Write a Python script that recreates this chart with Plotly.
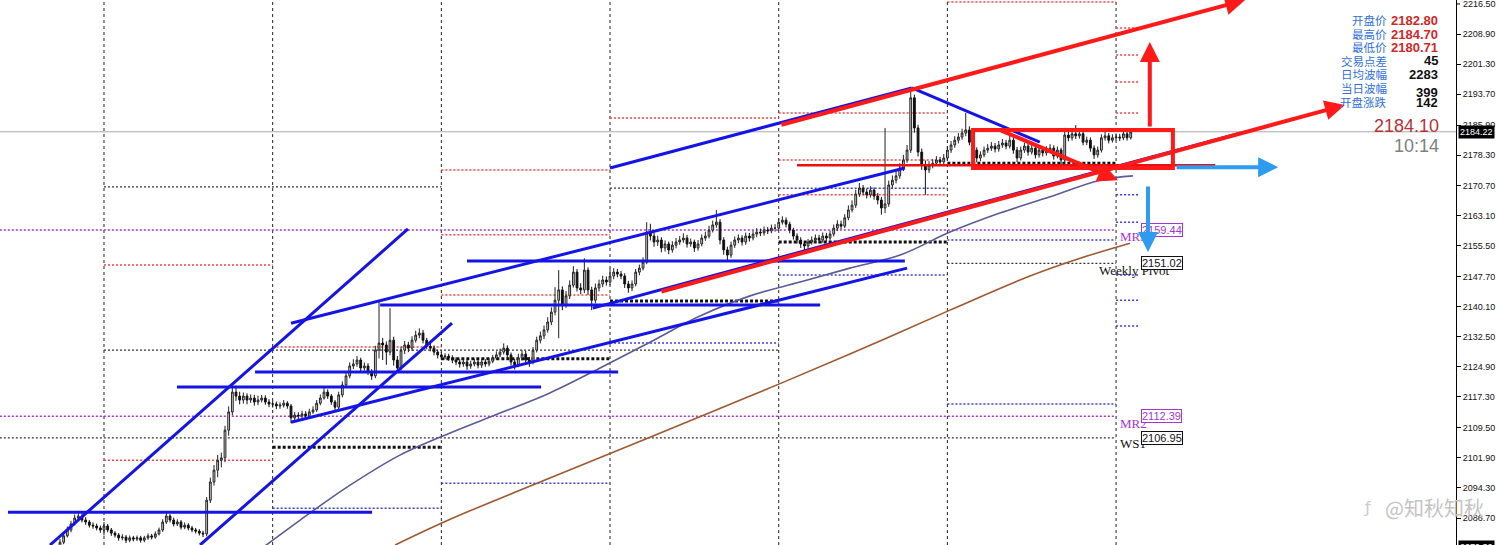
import plotly.graph_objects as go

# ---------------- candle data (30-min bars, index = bar number) ----------------
closes = [
2080.6,2082.2,2083.7,2085.2,2086.7,2087.2,2086.2,2085.7,2084.9,2084.7,
2084.2,2083.7,2084.7,2083.7,2082.9,2082.4,2081.7,2081.9,2081.1,2081.7,
2081.4,2081.7,2081.1,2081.7,2082.2,2081.9,2082.7,2083.7,2085.7,2087.2,
2086.2,2085.2,2085.7,2084.4,2084.9,2084.2,2083.7,2083.4,2082.9,2082.7,
2091.2,2095.8,2098.8,2101.3,2101.9,2108.9,2113.5,2118.5,2117.5,2116.5,
2117.5,2116.5,2117.0,2116.0,2116.5,2117.0,2116.0,2115.5,2115.5,2115.0,
2115.2,2115.7,2115.0,2112.0,2112.7,2112.5,2113.0,2112.5,2113.5,2114.0,
2115.7,2117.0,2118.5,2117.5,2116.0,2114.7,2117.8,2120.3,2122.6,2125.1,
2125.6,2126.6,2124.6,2125.1,2123.6,2122.6,2129.1,2130.9,2130.4,2128.6,
2131.6,2126.6,2124.6,2129.1,2130.4,2129.6,2131.6,2132.9,2133.4,2131.6,
2130.1,2129.6,2128.6,2127.9,2127.4,2127.6,2127.1,2126.6,2126.1,2125.6,
2126.1,2125.1,2125.6,2126.1,2125.3,2126.1,2125.6,2126.3,2127.1,2127.9,
2128.6,2129.6,2127.9,2126.1,2125.3,2127.1,2128.1,2126.6,2126.1,2129.1,
2131.6,2132.7,2134.2,2136.2,2138.7,2141.7,2144.3,2140.5,2142.8,2145.5,
2148.8,2144.8,2144.3,2149.3,2144.3,2141.7,2144.8,2145.8,2146.8,2146.3,
2147.8,2148.8,2148.3,2147.8,2145.8,2144.8,2145.8,2148.8,2149.8,2151.3,
2158.9,2157.9,2156.4,2156.9,2154.9,2155.9,2154.4,2155.6,2156.4,2156.9,
2157.4,2155.9,2156.4,2154.9,2155.9,2157.4,2157.9,2159.4,2160.7,2161.4,
2156.9,2154.4,2153.1,2155.6,2156.9,2157.4,2156.4,2157.9,2157.4,2158.4,
2158.9,2158.7,2159.4,2159.2,2159.9,2159.9,2161.4,2161.9,2160.9,2159.4,
2157.9,2156.9,2155.9,2155.4,2156.4,2156.9,2157.4,2156.9,2157.9,2157.4,
2158.4,2159.9,2160.9,2160.4,2162.5,2164.5,2165.7,2168.5,2170.0,2169.0,
2168.3,2169.5,2168.0,2167.0,2165.0,2166.0,2170.8,2172.0,2173.1,2175.1,
2177.1,2179.6,2192.8,2185.2,2179.1,2175.8,2174.6,2175.8,2176.3,2177.1,
2176.6,2177.6,2179.6,2180.9,2182.1,2182.9,2183.9,2184.7,2181.6,2179.6,
2177.6,2178.4,2179.6,2180.1,2180.6,2179.9,2180.9,2181.4,2180.6,2182.1,
2179.6,2177.6,2179.6,2180.6,2179.1,2180.1,2178.4,2179.6,2178.9,2179.6,
2180.1,2178.1,2179.6,2177.1,2183.4,2182.7,2183.7,2183.2,2183.7,2181.6,
2182.1,2180.1,2178.4,2179.6,2182.7,2183.2,2182.1,2182.7,2182.9,2182.7,
2183.7,2182.7,2184.2]

highs = [
2081.4,2083.0,2084.6,2086.0,2087.6,2088.5,2087.9,2086.9,2086.2,2085.6,
2085.3,2084.8,2085.7,2085.2,2084.2,2083.4,2082.9,2082.6,2082.4,2082.3,
2082.2,2082.3,2082.2,2082.2,2082.8,2082.7,2083.3,2084.3,2086.4,2088.3,
2087.7,2086.8,2086.4,2086.2,2085.6,2085.4,2084.7,2084.2,2083.9,2083.5,
2092.0,2096.9,2100.1,2102.6,2103.2,2110.0,2114.9,2120.0,2119.6,2118.6,
2118.4,2118.2,2117.9,2117.8,2117.6,2117.8,2117.7,2116.7,2116.3,2116.1,
2115.9,2116.5,2116.2,2115.5,2113.5,2113.4,2113.8,2113.7,2114.3,2114.9,
2116.5,2117.9,2119.5,2119.2,2118.0,2116.5,2118.6,2121.2,2123.6,2126.0,
2126.8,2127.6,2127.2,2126.0,2125.8,2124.3,2130.2,2141.7,2132.2,2131.3,
2139.7,2132.5,2127.6,2130.0,2131.4,2131.2,2132.6,2134.0,2134.6,2134.2,
2132.2,2130.9,2130.3,2129.2,2128.6,2128.3,2128.2,2127.8,2127.3,2126.8,
2126.9,2126.7,2126.4,2126.9,2126.8,2126.9,2126.8,2127.1,2127.9,2128.8,
2129.5,2130.8,2130.3,2128.5,2126.9,2128.2,2129.1,2128.9,2127.4,2129.9,
2132.5,2133.8,2135.3,2137.4,2139.9,2145.0,2149.3,2145.2,2144.0,2146.7,
2150.3,2149.6,2146.0,2152.3,2150.0,2145.1,2145.9,2146.9,2147.9,2147.7,
2149.7,2149.8,2149.6,2149.1,2148.5,2146.6,2146.7,2149.6,2150.7,2152.5,
2161.4,2161.0,2158.7,2158.0,2157.6,2156.8,2156.5,2156.6,2157.4,2157.9,
2158.6,2158.2,2157.3,2157.0,2156.9,2158.3,2159.0,2160.5,2161.8,2164.5,
2162.2,2157.6,2155.2,2156.5,2157.8,2158.3,2158.1,2158.8,2158.7,2159.3,
2159.9,2159.8,2160.3,2160.2,2160.8,2160.9,2162.4,2162.9,2162.6,2161.5,
2160.0,2158.6,2157.6,2156.6,2157.2,2157.8,2158.3,2158.2,2158.8,2158.7,
2159.3,2160.8,2161.9,2161.8,2163.4,2165.6,2166.9,2169.6,2171.3,2170.8,
2169.9,2170.5,2170.2,2168.8,2167.8,2185.2,2171.9,2173.2,2174.4,2176.3,
2178.4,2180.9,2194.8,2193.6,2186.0,2180.0,2177.0,2176.8,2177.3,2178.1,
2177.9,2178.6,2180.6,2181.9,2183.1,2183.9,2185.0,2189.0,2185.6,2182.4,
2180.3,2179.3,2180.5,2181.1,2181.6,2181.4,2181.9,2182.4,2182.2,2183.5,
2182.8,2180.4,2180.5,2181.5,2181.3,2181.1,2180.9,2180.6,2180.3,2180.6,
2181.1,2180.8,2180.5,2180.2,2185.2,2184.3,2184.6,2185.9,2184.6,2184.2,
2183.0,2182.8,2180.8,2180.5,2183.6,2184.2,2183.9,2183.6,2183.8,2183.7,
2184.6,2184.3,2184.7]

lows = [
2079.0,2080.1,2081.8,2083.1,2084.8,2086.0,2085.6,2085.0,2084.3,2084.0,
2083.6,2083.0,2082.3,2083.1,2082.2,2081.8,2081.0,2081.1,2080.4,2080.6,
2080.8,2080.9,2080.5,2080.6,2081.2,2081.3,2081.5,2082.3,2083.2,2085.2,
2085.6,2084.6,2084.7,2083.8,2083.9,2083.6,2083.1,2082.8,2082.3,2081.9,
2082.1,2090.5,2094.9,2097.0,2099.5,2100.8,2107.5,2112.6,2116.3,2115.4,
2115.6,2115.4,2115.8,2115.1,2115.2,2115.9,2115.3,2114.7,2114.6,2114.2,
2114.3,2114.6,2114.3,2110.7,2111.3,2111.6,2111.9,2111.8,2112.0,2113.0,
2113.5,2115.2,2116.6,2116.8,2115.3,2114.0,2114.2,2117.2,2119.8,2122.0,
2124.3,2124.9,2123.8,2123.9,2122.8,2121.6,2122.0,2127.0,2126.6,2125.4,
2127.8,2125.2,2123.9,2124.0,2128.1,2128.6,2128.9,2131.0,2132.1,2130.8,
2129.3,2128.8,2127.8,2127.0,2126.6,2126.8,2126.4,2125.8,2125.3,2124.7,
2124.9,2124.1,2124.4,2125.0,2124.5,2124.6,2124.9,2125.0,2125.8,2126.6,
2127.3,2128.0,2127.0,2125.2,2124.2,2124.8,2126.5,2125.6,2124.9,2125.5,
2128.5,2130.8,2131.9,2133.5,2135.4,2137.9,2132.1,2139.2,2139.8,2142.0,
2144.9,2143.9,2143.2,2143.5,2143.0,2139.2,2140.9,2143.9,2145.0,2145.4,
2145.5,2147.0,2147.5,2147.0,2144.8,2143.6,2144.0,2145.2,2148.0,2149.2,
2150.8,2156.8,2155.2,2155.4,2153.8,2154.0,2153.3,2153.7,2154.8,2155.7,
2156.2,2155.0,2155.2,2153.9,2154.2,2155.3,2156.7,2157.3,2158.8,2160.0,
2155.8,2153.2,2151.8,2152.4,2154.9,2156.1,2155.5,2155.7,2156.5,2156.8,
2157.6,2157.9,2158.0,2158.4,2158.6,2159.0,2159.3,2160.8,2160.1,2158.6,
2157.0,2156.0,2154.9,2154.3,2154.6,2155.7,2156.2,2156.0,2156.2,2156.6,
2156.8,2157.8,2159.2,2159.6,2159.9,2161.9,2163.9,2165.0,2167.8,2168.2,
2167.4,2167.6,2167.1,2165.9,2163.3,2163.7,2165.3,2169.9,2171.2,2172.4,
2174.3,2176.4,2178.9,2184.0,2178.0,2174.6,2168.3,2173.8,2175.0,2175.6,
2175.8,2175.9,2177.0,2178.9,2180.2,2181.3,2182.2,2183.1,2180.8,2178.6,
2176.5,2176.8,2177.8,2178.9,2179.4,2179.0,2179.2,2180.2,2179.8,2180.0,
2178.7,2176.6,2177.0,2178.9,2178.2,2178.5,2177.5,2177.7,2178.0,2178.2,
2178.9,2177.2,2177.5,2175.8,2176.5,2181.8,2182.0,2182.4,2182.5,2180.8,
2180.9,2179.2,2177.4,2177.7,2179.0,2182.0,2181.3,2181.5,2182.0,2181.9,
2182.1,2182.0,2182.3]

first_open = 2079.5
opens = [first_open] + closes[:-1]
bars = list(range(len(closes)))

# moving averages (bar index, price)
ma_slow_x = [55.1, 65.5, 79.1, 92.7, 106.4, 120.0, 133.6, 147.3, 160.9, 174.5, 188.2, 201.8, 215.4, 229.1, 242.7, 256.3, 270.0, 283.6, 292.6]
ma_slow_y = [2079.1, 2086.2, 2095.0, 2102.6, 2108.2, 2113.2, 2118.3, 2124.6, 2131.1, 2137.7, 2142.8, 2146.3, 2149.8, 2153.1, 2158.9, 2163.7, 2167.8, 2172.0, 2173.1]
ma_long_x = [91.4, 106.4, 133.6, 160.9, 188.2, 215.4, 242.7, 264.5, 278.2, 291.8]
ma_long_y = [2079.9, 2086.4, 2096.8, 2107.1, 2117.5, 2128.1, 2139.2, 2147.8, 2152.3, 2156.1]

# day separators (bar index)
day_starts = [12, 58, 104, 150, 196, 242, 288]

# pivot level segments: kind, start bar, end bar, price
level_kind = ["purple", "purple", "black", "black",
              "red", "black", "red", "black",
              "red", "pivot", "blue",
              "red", "red", "red", "pivot", "blue",
              "red", "black", "pivot", "blue",
              "red", "red", "red", "blue", "pivot", "blue",
              "red", "pivot", "blue", "blue",
              "red", "red", "red", "red", "blue", "blue", "blue", "blue", "blue"]
level_x0 = [-16.4, -16.4, -16.4, 242,
            12, 12, 12, 12,
            58, 58, 58,
            104, 104, 104, 104, 104,
            150, 150, 150, 150,
            196, 196, 196, 196, 196, 196,
            242, 242, 242, 242,
            288, 288, 288, 288, 288, 288, 288, 288, 288]
level_x1 = [288, 288, 288, 288,
            58, 196, 58, 104,
            104, 104, 104,
            150, 150, 150, 150, 150,
            196, 196, 196, 196,
            242, 242, 242, 242, 242, 242,
            288, 288, 288, 288,
            294.5, 294.5, 294.5, 294.5, 294.5, 294.5, 294.5, 294.5, 294.5]
level_price = [2159.44, 2112.39, 2106.95, 2151.02,
               2150.6, 2129.1, 2101.3, 2170.3,
               2129.9, 2104.6, 2089.2,
               2174.6, 2158.2, 2143.0, 2126.9, 2095.5,
               2187.7, 2170.0, 2141.5, 2130.9,
               2189.0, 2177.1, 2168.3, 2170.0, 2156.4, 2148.1,
               2217.0, 2176.3, 2156.9, 2115.5,
               2210.4, 2203.6, 2196.8, 2189.0, 2168.3, 2161.4, 2148.1, 2141.7, 2135.2]

# hand-drawn trend lines (x0, p0, x1, p1)
blue_lines = [(-2.72, 2079.9, 94.9, 2159.7),
              (38.2, 2079.9, 106.9, 2135.9),
              (-14.18, 2088.2, 85.1, 2088.2),
              (31.9, 2119.8, 131.2, 2119.8),
              (53.2, 2123.6, 152.2, 2123.6),
              (63.0, 2110.9, 231.0, 2149.8),
              (63.0, 2135.9, 230.4, 2175.1),
              (87.3, 2140.5, 207.3, 2140.5),
              (111.0, 2151.6, 230.4, 2151.6),
              (145.3, 2139.7, 321.8, 2183.9),
              (150.0, 2175.1, 232.3, 2195.3),
              (232.3, 2195.3, 267.2, 2181.6)]
red_hline = (201.0, 2175.8, 315.0, 2175.8)
red_box = (249.0, 2184.7, 303.5, 2175.1)
# arrows: tail x, tail price, head x, head price, colour
arrows = [(196.3, 2185.9, 323.2, 2217.5, "#ff1a1a"),
          (163.6, 2143.8, 350.4, 2191.0, "#ff1a1a"),
          (256.3, 2184.7, 288.5, 2172.0, "#ff1a1a"),
          (297.2, 2185.2, 297.2, 2206.9, "#ff1a1a"),
          (296.7, 2170.8, 296.7, 2153.9, "#2d9bf0"),
          (304.1, 2175.3, 332.2, 2175.3, "#2d9bf0")]

tick_vals = [2216.5, 2208.9, 2201.3, 2193.7, 2185.9, 2178.3, 2170.7, 2163.1, 2155.5,
             2147.7, 2140.1, 2132.5, 2124.9, 2117.3, 2109.5, 2101.9, 2094.3, 2086.7]
tick_text = ["%.2f" % v for v in tick_vals]

info_labels = ["开盘价", "最高价", "最低价", "交易点差", "日均波幅", "当日波幅", "开盘涨跌"]
info_values = ["2182.80", "2184.70", "2180.71", "45", "2283", "399", "142"]
last_price = 2184.22

X0, X1 = -16.36, 380.7
Y0, Y1 = 2079.9, 2217.5

fig = go.Figure()

fig.add_trace(go.Candlestick(
    x=bars, open=opens, high=highs, low=lows, close=closes,
    increasing=dict(line=dict(color="#222222", width=1), fillcolor="#d4d4d4"),
    decreasing=dict(line=dict(color="#111111", width=1), fillcolor="#111111"),
    whiskerwidth=0, hoverinfo="skip"))

fig.add_trace(go.Scatter(x=ma_slow_x, y=ma_slow_y, mode="lines",
                         line=dict(color="#5a5a9c", width=1.6, shape="spline"), hoverinfo="skip"))
fig.add_trace(go.Scatter(x=ma_long_x, y=ma_long_y, mode="lines",
                         line=dict(color="#a0582e", width=1.6, shape="spline"), hoverinfo="skip"))

shapes = []
# current price line
shapes.append(dict(type="line", xref="x", yref="y", x0=X0, x1=X1, y0=last_price, y1=last_price,
                   line=dict(color="#aaaaaa", width=1), layer="below"))
# day separators
for d in day_starts:
    shapes.append(dict(type="line", xref="x", yref="paper", x0=d, x1=d, y0=0, y1=1,
                       line=dict(color="#222222", width=1, dash="3px,3px"), layer="below"))
# levels
style = {"red": dict(color="#ff4040", width=1.5, dash="2px,2px"),
         "blue": dict(color="#3a3aff", width=1.5, dash="2px,2px"),
         "black": dict(color="#333333", width=1.2, dash="2px,2px"),
         "pivot": dict(color="#111111", width=3, dash="3px,2px"),
         "purple": dict(color="#b030e0", width=1.5, dash="2px,2px")}
for k, a, b, p in zip(level_kind, level_x0, level_x1, level_price):
    shapes.append(dict(type="line", xref="x", yref="y", x0=a, x1=b, y0=p, y1=p,
                       line=style[k], layer="below"))
# blue trend lines
for (a, p, b, q) in blue_lines:
    shapes.append(dict(type="line", xref="x", yref="y", x0=a, y0=p, x1=b, y1=q,
                       line=dict(color="#1414e6", width=3)))
a, p, b, q = red_hline
shapes.append(dict(type="line", xref="x", yref="y", x0=a, y0=p, x1=b, y1=q,
                   line=dict(color="#e81010", width=2.5)))
a, p, b, q = red_box
shapes.append(dict(type="rect", xref="x", yref="y", x0=a, y0=p, x1=b, y1=q,
                   line=dict(color="#ff1a1a", width=4)))
# tick mark for the top label (drawn manually, Plotly drops the edge label)
shapes.append(dict(type="line", xref="paper", yref="y", x0=1.0, x1=1.0 + 4 / 1456,
                   y0=tick_vals[0], y1=tick_vals[0], line=dict(color="black", width=1)))

annotations = []
# top axis label
annotations.append(dict(x=1.0, y=tick_vals[0], xref="paper", yref="y", text=tick_text[0],
                        showarrow=False, xanchor="left", yanchor="middle", xshift=5,
                        font=dict(family="Liberation Sans", size=9, color="#111111")))
# weekly level labels
lab_font = "Liberation Serif"
for txt, price, col in [("MR3", 2157.7, "#a335d6"), ("Weekly Pivot", 2149.3, "#111111"),
                        ("MR2", 2110.7, "#a335d6"), ("WS1", 2105.6, "#111111")]:
    xpos = 282.8 if txt == "Weekly Pivot" else 288.5
    annotations.append(dict(x=xpos, y=price, xref="x", yref="y", text=txt, showarrow=False,
                            xanchor="left", yanchor="middle",
                            font=dict(family=lab_font, size=13, color=col)))
for txt, price, col in [("2159.44", 2159.44, "#a335d6"), ("2151.02", 2151.02, "#111111"),
                        ("2112.39", 2112.39, "#a335d6"), ("2106.95", 2106.95, "#111111")]:
    annotations.append(dict(x=294.8, y=price, xref="x", yref="y", text=txt, showarrow=False,
                            xanchor="left", yanchor="middle", bgcolor="white",
                            bordercolor=col, borderwidth=1, borderpad=0,
                            font=dict(family="Liberation Sans", size=11, color=col)))
# arrows
for (ta, tp, ha, hp, col) in arrows:
    annotations.append(dict(x=ha, y=hp, ax=ta, ay=tp, xref="x", yref="y", axref="x", ayref="y",
                            text="", showarrow=True, arrowhead=2, arrowsize=1.0, arrowwidth=4,
                            arrowcolor=col, standoff=0, startstandoff=0))

# info panel
rows_y = [20, 34, 47, 61, 74, 88, 102]
vals_y = [20, 34, 47, 61, 74, 93, 102]
for i, (lab, val) in enumerate(zip(info_labels, info_values)):
    annotations.append(dict(x=1389 / 1456, y=1 - rows_y[i] / 545, xref="paper", yref="paper",
                            text=lab, showarrow=False, xanchor="right", yanchor="middle",
                            font=dict(family="Noto Sans CJK SC", size=11.5, color="#2f6fe0")))
    vcol = "#d02828" if i < 3 else "#111111"
    annotations.append(dict(x=1440 / 1456, y=1 - vals_y[i] / 545, xref="paper", yref="paper",
                            text="<b>%s</b>" % val, showarrow=False, xanchor="right", yanchor="middle",
                            font=dict(family="Liberation Sans", size=13, color=vcol)))
annotations.append(dict(x=1441 / 1456, y=1 - 126 / 545, xref="paper", yref="paper", text="2184.10",
                        showarrow=False, xanchor="right", yanchor="middle",
                        font=dict(family="Liberation Sans", size=18, color="#b83232")))
annotations.append(dict(x=1441 / 1456, y=1 - 146 / 545, xref="paper", yref="paper", text="10:14",
                        showarrow=False, xanchor="right", yanchor="middle",
                        font=dict(family="Liberation Sans", size=18, color="#808080")))
# price boxes on the axis
annotations.append(dict(x=1.0, y=last_price, xref="paper", yref="y", text="2184.22",
                        showarrow=False, xanchor="left", yanchor="middle", bgcolor="black",
                        borderpad=1, xshift=2,
                        font=dict(family="Liberation Sans", size=9, color="white")))
annotations.append(dict(x=1.0, y=0, xref="paper", yref="paper", text="2079.30",
                        showarrow=False, xanchor="left", yanchor="top", bgcolor="black",
                        borderpad=1, xshift=2, yshift=5,
                        font=dict(family="Liberation Sans", size=9, color="white")))
# watermark
annotations.append(dict(x=1434 / 1456, y=1 - 507 / 545, xref="paper", yref="paper", text="@知秋知秋",
                        showarrow=False, xanchor="center", yanchor="middle",
                        font=dict(family="Noto Sans CJK SC", size=20, color="#c4c4c4")))
annotations.append(dict(x=1367 / 1456, y=1 - 507 / 545, xref="paper", yref="paper", text="ƒ",
                        showarrow=False, xanchor="center", yanchor="middle",
                        font=dict(family="DejaVu Sans", size=16, color="#cccccc")))

fig.update_layout(
    width=1499, height=545,
    margin=dict(l=0, r=43, t=0, b=0),
    paper_bgcolor="white", plot_bgcolor="white",
    showlegend=False,
    shapes=shapes, annotations=annotations,
    xaxis=dict(range=[X0, X1], visible=False, rangeslider=dict(visible=False), fixedrange=True),
    yaxis=dict(range=[Y0, Y1], side="right", showgrid=False, zeroline=False,
               tickvals=tick_vals[1:], ticktext=tick_text[1:], ticks="outside", ticklen=4,
               tickcolor="black", showline=True, linecolor="black", linewidth=1,
               tickfont=dict(family="Liberation Sans", size=9, color="#111111"),
               automargin=False, fixedrange=True),
)

fig.write_html("out.html", config={"displayModeBar": False, "staticPlot": True})

# remove the browser's default 8px page margin so the figure fills the window
with open("out.html", "r", encoding="utf-8") as fh:
    html = fh.read()
html = html.replace("<head>", "<head><style>html,body{margin:0;padding:0;overflow:hidden;}</style>", 1)
with open("out.html", "w", encoding="utf-8") as fh:
    fh.write(html)
